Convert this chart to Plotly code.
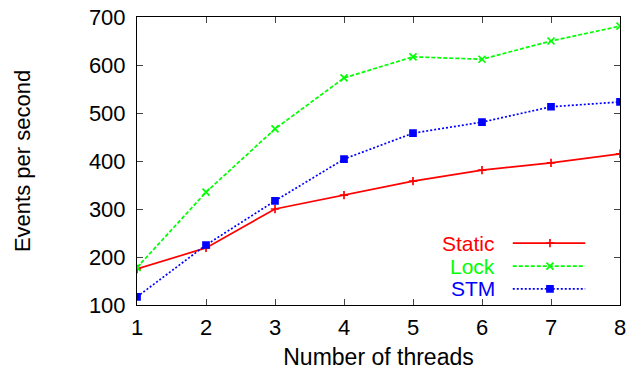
import plotly.graph_objects as go

threads = [1, 2, 3, 4, 5, 6, 7, 8]
static_vals = [175, 219, 300, 329, 358, 381, 396, 415]
lock_vals = [178, 335, 467, 573, 617, 612, 650, 681]
stm_vals = [117, 225, 317, 404, 458, 481, 513, 523]
series_names = ["Static", "Lock", "STM"]
colors = ["#ff0000", "#00ff00", "#0000ff"]
dashes = ["solid", "4px,2px", "2px,2px"]
symbols = ["cross-thin", "x-thin", "square"]
msizes = [6, 7, 6]
y_ticks = [100, 200, 300, 400, 500, 600, 700]

fig = go.Figure()
for name, vals, c, d, s, ms in zip(series_names, [static_vals, lock_vals, stm_vals], colors, dashes, symbols, msizes):
    fig.add_trace(go.Scatter(
        x=threads, y=vals, mode="lines+markers", name=name,
        line=dict(color=c, width=1.7, dash=d),
        marker=dict(symbol=s, size=ms, color=c, line=dict(color=c, width=1.7)),
        showlegend=False,
    ))

# custom legend (text right-aligned, sample to the right) on an overlay axis
leg_y = [0.215, 0.135, 0.056]
for name, c, d, s, ms, ly in zip(series_names, colors, dashes, symbols, msizes, leg_y):
    fig.add_trace(go.Scatter(
        x=[0.778, 0.855, 0.928], y=[ly, ly, ly], xaxis="x2", yaxis="y2",
        mode="lines", line=dict(color=c, width=1.7, dash=d), showlegend=False,
        hoverinfo="skip",
    ))
    fig.add_trace(go.Scatter(
        x=[0.855], y=[ly], xaxis="x2", yaxis="y2", mode="markers",
        marker=dict(symbol=s, size=ms, color=c, line=dict(color=c, width=1.7)),
        showlegend=False, hoverinfo="skip",
    ))
    fig.add_annotation(x=0.745, y=ly, xref="x2", yref="y2", text=name,
                       showarrow=False, xanchor="right", yanchor="middle",
                       font=dict(color=c, size=21, family="Liberation Sans"))

fig.update_layout(
    width=632, height=371,
    margin=dict(l=137, r=12, t=17, b=66),
    paper_bgcolor="white", plot_bgcolor="white",
    font=dict(family="Liberation Sans, Arial, sans-serif", color="black", size=22),
    xaxis=dict(range=[1, 8], tickvals=threads, ticks="inside", ticklen=6,
               mirror="allticks", showline=True, linecolor="black", linewidth=1,
               showgrid=False, zeroline=False, tickfont=dict(size=22),
               ticklabelstandoff=3, automargin=False,
               title=dict(text="Number of threads", font=dict(size=23), standoff=9)),
    yaxis=dict(range=[100, 700], tickvals=y_ticks, ticks="inside", ticklen=6,
               mirror="allticks", showline=True, linecolor="black", linewidth=1,
               showgrid=False, zeroline=False, tickfont=dict(size=22),
               ticklabelstandoff=6, automargin=False,
               title=dict(text="Events per second", font=dict(size=22), standoff=52)),
    xaxis2=dict(range=[0, 1], overlaying="x", visible=False, fixedrange=True),
    yaxis2=dict(range=[0, 1], overlaying="y", visible=False, fixedrange=True),
)

fig.write_html("out.html")
